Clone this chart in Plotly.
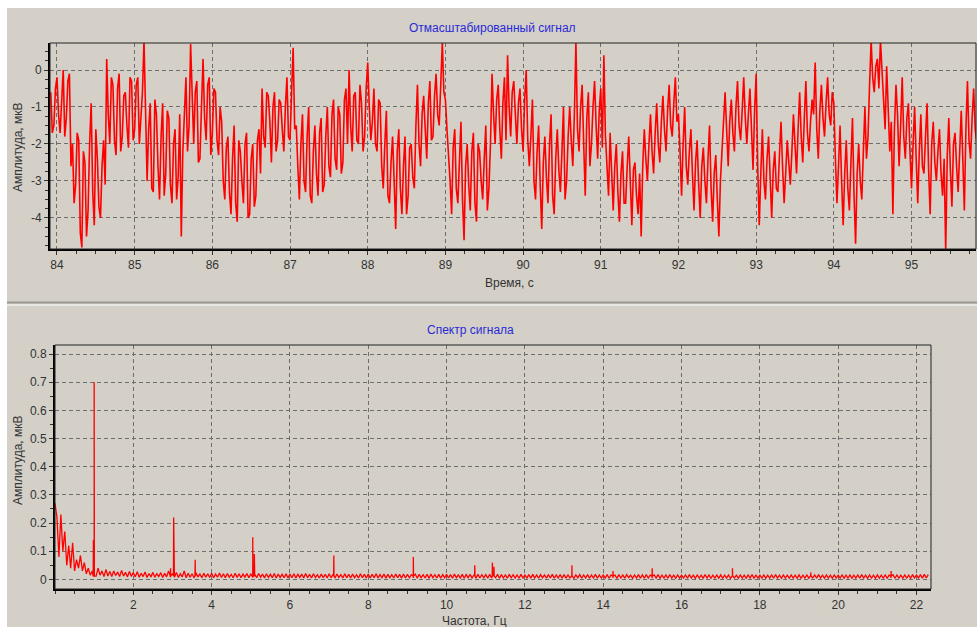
import plotly.graph_objects as go

W, H = 977, 627

# ---------------- data ----------------
# signal samples (two interleaved sample sets)
t_start = 83.92
t_step = 0.04
signal_a = [
    -0.6, -1.5, -0.2, -1.7, 0.0, -1.3, -0.1,
    -2.0, -3.1, -1.9, -4.8, -2.5, -3.8, -0.9, -4.2, -2.4, -4.0, -1.9,
    0.3, -2.0, -0.4, -2.3, -0.1, -1.8, -0.6, -2.1, -0.3, -1.6, -0.2, -1.3, 0.8,
    -3.0, -0.9, -3.3, -1.2, -3.5, -0.9, -2.8, -1.3, -3.6, -1.6, -2.9, -4.5,
    -1.0, -2.2, 0.7, -2.0, -0.3, -2.4, 0.3, -1.9, -0.2, -1.7, -0.6, -2.3,
    -1.4, -3.5, -1.8, -3.9, -1.5, -4.1, -2.2, -3.6, -1.7, -3.9, -2.0, -3.4, -1.6,
    -0.5, -2.1, -0.7, -2.5, -0.6, -1.9, -0.9,
    -2.2, -0.2, -1.9, 0.6, -1.5,
    -3.5, -1.2, -3.3, -1.0, -3.6, -1.5, -3.4, -1.3,
    -3.1, -1.0, -2.9, -0.8, -2.7, -1.2, -2.5, -0.5, 0.0, -2.2, -0.6, -2.0, -0.9, -1.8,
    0.2, -1.9, -0.5, -2.2, -0.9,
    -3.2, -1.1, -3.6, -1.8, -4.3, -1.6, -3.9, -1.8, -3.4, -2.0,
    -3.2, -0.4, -2.6, -0.7, -2.4, -0.3, -1.8, -0.1, -1.5, 0.75, -0.8,
    -2.2, -3.9, -1.6, -3.6, -1.4, -4.6, -2.0, -3.8, -1.7, -4.1, -2.2, -3.5, -1.5, -3.2,
    -0.1, -2.0, -0.4, -2.4, -0.2, 0.4, -1.8,
    -0.3, -2.0, -0.5, -2.2, 0.0,
    -2.6, -0.8, -3.5, -1.5, -4.3, -1.8, -3.6, -1.2, -3.9, -1.6, -3.3, -1.0, -3.0,
    -1.0, -2.6, 0.75, -2.2, -0.4, -3.4, -0.6, -2.0, -0.3, -2.4, -0.5, 0.4,
    -2.6, -1.7, -3.8, -2.0, -4.1, -2.2, -3.6, -1.8, -4.2, -2.5, -3.9, -4.5,
    -1.6, -3.0, -1.2, -2.8, -0.9, -2.5, -0.7, -2.2, -0.4, -1.8, -0.2,
    -1.2, -3.4, -1.0, -3.1, -1.6, -3.8, -1.9, -4.0, -2.1, -3.6, -1.5, -4.1, -2.3, -4.5, -2.0,
    -0.6, -2.6, -0.8, -2.2, -0.3, -1.9, -0.2,
    -2.0, -0.5, -2.7, -0.1,
    -4.2, -1.6, -3.5, -1.8, -4.0, -2.2, -3.3, -1.4, -3.6, -1.9, -3.1, -1.2,
    -2.8, -0.6, -2.5, -0.3, -2.2, -0.8, 0.2, -2.4, -0.4, -1.8, -0.2, -1.5, -0.9,
    -3.6, -1.5, -4.2, -1.9, -3.8, -1.3, -4.7, -2.0, -3.5, -1.0,
    -1.8, 0.8, -0.6, 0.3, 0.8, -0.9,
    0.1, -2.2, -3.9, -0.4, -2.6, -0.2, -2.4, -0.9,
    -3.2, -1.0, -3.6, -1.2, -2.8, -0.9, -3.9, -1.4, -3.0, -1.6, -3.4, -4.9,
    -1.3, -3.7, -1.7, -3.3, -1.1, -3.8, -0.3, -2.4, -0.5, -2.0,
]
signal_b = [  # samples half a step later
    -1.7, -0.5, -1.2, -0.6, -1.8, -0.3, -2.6,
    -3.6, -1.7, -4.4, -2.2, -4.5, -2.0, -3.3, -1.6, -3.7, -2.6, -3.1,
    -1.2, -0.2, -1.9, -0.5, -2.2, -0.7, -1.5, -0.2, -1.9, -0.4, -2.0, -0.6, -1.1,
    -1.6, -3.2, -0.8, -2.6, -1.8, -3.4, -1.1, -3.1, -2.0, -3.5, -1.2, -2.2,
    -0.2, -1.5, -0.9, -0.6, -2.5, -1.0, -1.3, -0.4, -2.3, -0.5, -1.9, -1.0,
    -3.0, -2.1, -3.3, -2.4, -3.6, -1.9, -3.0, -2.0, -4.0, -2.4, -3.7, -1.9, -2.8,
    -1.8, -0.6, -1.4, -1.0, -2.2, -0.8, -1.6,
    -1.0, -1.8, -0.6, -1.6, -2.6,
    -2.0, -3.0, -1.8, -3.4, -2.2, -2.8, -1.7, -3.3,
    -1.8, -2.6, -1.2, -2.4, -1.0, -2.8, -0.8, -2.0, -1.5, -0.7, -1.9, -0.4, -2.2, -0.5,
    -1.0, -1.4, -2.0, -0.8, -2.6,
    -2.0, -3.4, -2.5, -3.0, -2.2, -3.2, -2.6, -3.9, -2.1, -2.9,
    -1.5, -2.0, -1.2, -1.6, -0.9, -1.9, -0.7, -1.2, -0.4, -0.6, -1.6,
    -3.0, -2.1, -3.2, -2.4, -3.5, -2.6, -3.1, -2.2, -3.6, -2.0, -3.0, -2.4, -3.8, -2.0,
    -1.2, -0.8, -1.6, -0.9, -1.9, -1.0, -0.6,
    -1.2, -0.9, -1.6, -0.8, -1.9,
    -1.8, -3.0, -2.2, -3.1, -2.5, -2.9, -2.0, -3.4, -2.4, -2.7, -2.2, -3.5, -1.8,
    -1.9, -1.2, -1.6, -1.0, -2.0, -1.3, -2.6, -1.0, -1.5, -1.1, -2.1, -1.8,
    -3.4, -3.0, -2.6, -3.3, -2.8, -3.6, -2.6, -3.0, -2.7, -3.4, -2.8, -2.6,
    -2.4, -2.0, -2.2, -1.7, -2.0, -1.4, -1.6, -1.1, -1.5, -0.9, -1.4,
    -2.2, -2.0, -2.6, -2.2, -2.8, -2.5, -3.1, -2.6, -3.0, -2.4, -3.2, -2.8, -3.5, -3.0, -1.4,
    -1.6, -1.4, -1.7, -1.0, -1.5, -1.1, -1.3,
    -1.2, -1.6, -1.1, -2.6,
    -2.8, -3.0, -2.4, -2.9, -2.7, -3.2, -2.3, -2.6, -2.8, -2.5, -2.2, -2.0,
    -1.6, -1.8, -1.3, -1.7, -1.4, -1.2, -1.6, -1.1, -1.3, -0.9, -1.2, -0.6, -2.4,
    -2.6, -3.0, -2.8, -3.2, -2.5, -3.4, -2.8, -3.0, -2.2, -2.4,
    -0.4, -0.2, 0.1, -0.5, 0.0, -1.6,
    -1.0, -1.4, -1.6, -1.2, -1.5, -1.8, -1.3, -2.2,
    -2.0, -2.4, -2.2, -2.6, -1.8, -2.7, -2.0, -2.5, -2.2, -2.8, -2.4, -2.3,
    -2.7, -2.0, -2.6, -2.2, -2.4, -1.6, -1.9, -1.3, -1.6, -2.2,
]
time_s, signal_uv = [], []
for i, (va, vb) in enumerate(zip(signal_a, signal_b)):
    t = t_start + t_step * i
    time_s += [round(t, 3), round(t + t_step / 2, 3)]
    signal_uv += [va, vb]

# spectrum noise floor, 0.00 .. 22.30 Hz, step 0.05 Hz (one row per Hz)
f_step = 0.05
spec_floor = [
    0.27, 0.22, 0.08, 0.23, 0.10, 0.17, 0.05, 0.12, 0.04, 0.13, 0.03, 0.07, 0.04, 0.085, 0.03, 0.06, 0.02, 0.04, 0.015, 0.03,
    0.03, 0.012, 0.04, 0.015, 0.03, 0.01, 0.035, 0.012, 0.028, 0.01, 0.03, 0.014, 0.026, 0.01, 0.032, 0.012, 0.025, 0.009, 0.028, 0.011,
    0.024, 0.009, 0.027, 0.008, 0.022, 0.01, 0.026, 0.007, 0.021, 0.009, 0.025, 0.008, 0.02, 0.01, 0.024, 0.007, 0.022, 0.009, 0.03, 0.008,
    0.021, 0.008, 0.025, 0.007, 0.02, 0.009, 0.03, 0.006, 0.022, 0.008, 0.02, 0.007, 0.024, 0.009, 0.019, 0.006, 0.022, 0.008, 0.02, 0.007,
    0.022, 0.006, 0.019, 0.008, 0.023, 0.007, 0.02, 0.006, 0.021, 0.008, 0.018, 0.006, 0.022, 0.007, 0.02, 0.006, 0.019, 0.008, 0.021, 0.006,
    0.02, 0.007, 0.018, 0.006, 0.021, 0.008, 0.019, 0.005, 0.02, 0.007, 0.018, 0.006, 0.021, 0.005, 0.019, 0.007, 0.018, 0.006, 0.02, 0.005,
    0.019, 0.006, 0.02, 0.005, 0.018, 0.007, 0.019, 0.005, 0.021, 0.006, 0.018, 0.005, 0.02, 0.007, 0.017, 0.005, 0.019, 0.006, 0.018, 0.005,
    0.02, 0.006, 0.018, 0.005, 0.019, 0.007, 0.017, 0.005, 0.02, 0.006, 0.018, 0.005, 0.019, 0.006, 0.017, 0.005, 0.02, 0.006, 0.018, 0.005,
    0.019, 0.005, 0.018, 0.006, 0.02, 0.005, 0.017, 0.006, 0.019, 0.004, 0.018, 0.006, 0.017, 0.005, 0.019, 0.006, 0.018, 0.004, 0.019, 0.005,
    0.018, 0.006, 0.017, 0.005, 0.019, 0.004, 0.018, 0.006, 0.017, 0.005, 0.018, 0.004, 0.019, 0.006, 0.017, 0.005, 0.018, 0.004, 0.017, 0.006,
    0.018, 0.005, 0.017, 0.004, 0.019, 0.006, 0.016, 0.005, 0.018, 0.004, 0.017, 0.006, 0.018, 0.005, 0.016, 0.004, 0.018, 0.005, 0.017, 0.006,
    0.017, 0.004, 0.018, 0.005, 0.016, 0.006, 0.018, 0.004, 0.017, 0.005, 0.016, 0.004, 0.018, 0.006, 0.017, 0.005, 0.016, 0.004, 0.018, 0.005,
    0.016, 0.005, 0.017, 0.004, 0.018, 0.005, 0.016, 0.004, 0.017, 0.006, 0.016, 0.004, 0.017, 0.005, 0.018, 0.004, 0.016, 0.005, 0.017, 0.004,
    0.017, 0.004, 0.016, 0.005, 0.018, 0.004, 0.016, 0.006, 0.017, 0.004, 0.016, 0.005, 0.017, 0.004, 0.016, 0.005, 0.018, 0.004, 0.016, 0.005,
    0.016, 0.005, 0.017, 0.004, 0.016, 0.005, 0.015, 0.004, 0.017, 0.005, 0.016, 0.004, 0.017, 0.006, 0.015, 0.004, 0.016, 0.005, 0.017, 0.004,
    0.016, 0.004, 0.017, 0.005, 0.015, 0.004, 0.016, 0.005, 0.017, 0.004, 0.015, 0.005, 0.016, 0.004, 0.017, 0.005, 0.015, 0.004, 0.016, 0.005,
    0.015, 0.005, 0.016, 0.004, 0.017, 0.005, 0.015, 0.004, 0.016, 0.005, 0.015, 0.004, 0.017, 0.005, 0.016, 0.004, 0.015, 0.005, 0.016, 0.004,
    0.016, 0.004, 0.015, 0.005, 0.016, 0.004, 0.017, 0.005, 0.015, 0.004, 0.016, 0.005, 0.015, 0.004, 0.016, 0.005, 0.017, 0.004, 0.015, 0.005,
    0.015, 0.005, 0.016, 0.004, 0.015, 0.005, 0.016, 0.004, 0.017, 0.005, 0.015, 0.004, 0.016, 0.005, 0.015, 0.004, 0.016, 0.005, 0.015, 0.004,
    0.016, 0.004, 0.015, 0.005, 0.016, 0.004, 0.015, 0.005, 0.016, 0.004, 0.017, 0.005, 0.015, 0.004, 0.016, 0.005, 0.015, 0.004, 0.016, 0.005,
    0.015, 0.005, 0.016, 0.004, 0.015, 0.005, 0.016, 0.004, 0.015, 0.005, 0.016, 0.004, 0.017, 0.005, 0.015, 0.004, 0.016, 0.005, 0.015, 0.004,
    0.016, 0.004, 0.015, 0.005, 0.016, 0.004, 0.015, 0.005, 0.017, 0.004, 0.016, 0.005, 0.015, 0.004, 0.016, 0.005, 0.015, 0.004, 0.017, 0.005,
    0.016, 0.005, 0.017, 0.004, 0.018, 0.005, 0.017,
]
peak_freq = [0.98, 1.0, 2.95, 3.03, 3.58, 5.05, 5.09, 7.12, 9.15, 10.72,
             11.17, 11.21, 13.2, 14.25, 15.25, 17.3, 19.3, 21.35]
peak_amp = [0.14, 0.70, 0.04, 0.22, 0.07, 0.15, 0.09, 0.085, 0.08, 0.05,
            0.06, 0.045, 0.05, 0.03, 0.04, 0.04, 0.025, 0.03]

# merge floor and narrow peaks
pts = [(round(i * f_step, 3), v) for i, v in enumerate(spec_floor)]
for f, a in zip(peak_freq, peak_amp):
    pts += [(f - 0.005, 0.012), (f, a), (f + 0.005, 0.012)]
pts.sort()
spec_f = [p[0] for p in pts]
spec_a = [p[1] for p in pts]

top_xticks = list(range(84, 96))
top_yticks = [0, -1, -2, -3, -4]
bot_xticks = list(range(2, 23, 2))
bot_yticks = [0, 0.1, 0.2, 0.3, 0.4, 0.5, 0.6, 0.7, 0.8]

# ---------------- figure ----------------
BG = "#d4d0c8"
FONT = "Liberation Sans, Arial, sans-serif"

def px(x):
    return x / W

def py(y):
    return 1 - y / H

fig = go.Figure()
fig.add_trace(go.Scatter(x=time_s, y=signal_uv, mode="lines",
                         line=dict(color="#ff0000", width=1.6),
                         xaxis="x", yaxis="y", showlegend=False))
fig.add_trace(go.Scatter(x=spec_f, y=spec_a, mode="lines",
                         line=dict(color="#ff0000", width=1.3),
                         xaxis="x2", yaxis="y2", showlegend=False))

tickfont = dict(family=FONT, size=12, color="#333333")
common_axis = dict(showline=True, linecolor="black", linewidth=2,
                   showgrid=True, gridcolor="#6e6e6e", gridwidth=1,
                   griddash="4px,3px", zeroline=False, ticks="outside",
                   ticklen=4, tickcolor="#333333", tickfont=tickfont,
                   fixedrange=True)

fig.update_layout(
    width=W, height=H,
    margin=dict(l=0, r=0, t=0, b=0),
    paper_bgcolor="white", plot_bgcolor=BG,
    xaxis=dict(domain=[px(50), px(976)], anchor="y",
               range=[83.91, 95.83], tickmode="array",
               tickvals=top_xticks, ticktext=[str(v) for v in top_xticks],
               minor=dict(tick0=84, dtick=0.25, ticks="outside", ticklen=3,
                          tickcolor="#333333", showgrid=False),
               **common_axis),
    yaxis=dict(domain=[py(249), py(43)], anchor="x",
               range=[-4.84, 0.73], tickmode="array",
               tickvals=top_yticks, ticktext=[str(v) for v in top_yticks],
               minor=dict(tick0=0, dtick=0.25, ticks="outside", ticklen=3,
                          tickcolor="#333333", showgrid=False),
               **common_axis),
    xaxis2=dict(domain=[px(55), px(931)], anchor="y2",
                range=[0, 22.37], tickmode="array",
                tickvals=bot_xticks, ticktext=[str(v) for v in bot_xticks],
                minor=dict(tick0=0, dtick=0.5, ticks="outside", ticklen=3,
                           tickcolor="#333333", showgrid=False),
                **common_axis),
    yaxis2=dict(domain=[py(589), py(345)], anchor="x2",
                range=[-0.034, 0.832], tickmode="array",
                tickvals=bot_yticks,
                ticktext=["0" if v == 0 else str(v) for v in bot_yticks],
                minor=dict(tick0=0, dtick=0.05, ticks="outside", ticklen=3,
                           tickcolor="#333333", showgrid=False),
                **common_axis),
)

shapes = [
    dict(type="rect", xref="paper", yref="paper", x0=px(7), x1=1.0,
         y0=0, y1=py(8), fillcolor=BG, line=dict(width=0), layer="below"),
    dict(type="line", xref="paper", yref="paper", x0=px(7), x1=1.0,
         y0=py(302.5), y1=py(302.5), line=dict(color="#9a9890", width=2)),
    dict(type="line", xref="paper", yref="paper", x0=px(7), x1=1.0,
         y0=py(305), y1=py(305), line=dict(color="#ffffff", width=1)),
    dict(type="rect", xref="x domain", yref="y domain", x0=0, x1=1, y0=0, y1=1,
         line=dict(color="#222222", width=1)),
    dict(type="rect", xref="x2 domain", yref="y2 domain", x0=0, x1=1, y0=0, y1=1,
         line=dict(color="#222222", width=1)),
]
fig.update_layout(shapes=shapes)

title_font = dict(family=FONT, size=12, color="#2a2ad6")
label_font = dict(family=FONT, size=12, color="#333333")
ann = [
    dict(text="Отмасштабированный сигнал", x=px(493), y=py(28), font=title_font),
    dict(text="Спектр сигнала", x=px(470), y=py(330), font=title_font),
    dict(text="Время, с", x=px(509), y=py(283), font=label_font),
    dict(text="Частота, Гц", x=px(474), y=py(621), font=label_font),
    dict(text="Амплитуда, мкВ", x=px(18), y=py(147), font=label_font, textangle=-90),
    dict(text="Амплитуда, мкВ", x=px(18), y=py(460), font=label_font, textangle=-90),
]
for a in ann:
    a.update(xref="paper", yref="paper", showarrow=False,
             xanchor="center", yanchor="middle")
fig.update_layout(annotations=ann)

fig.write_html("out.html")
